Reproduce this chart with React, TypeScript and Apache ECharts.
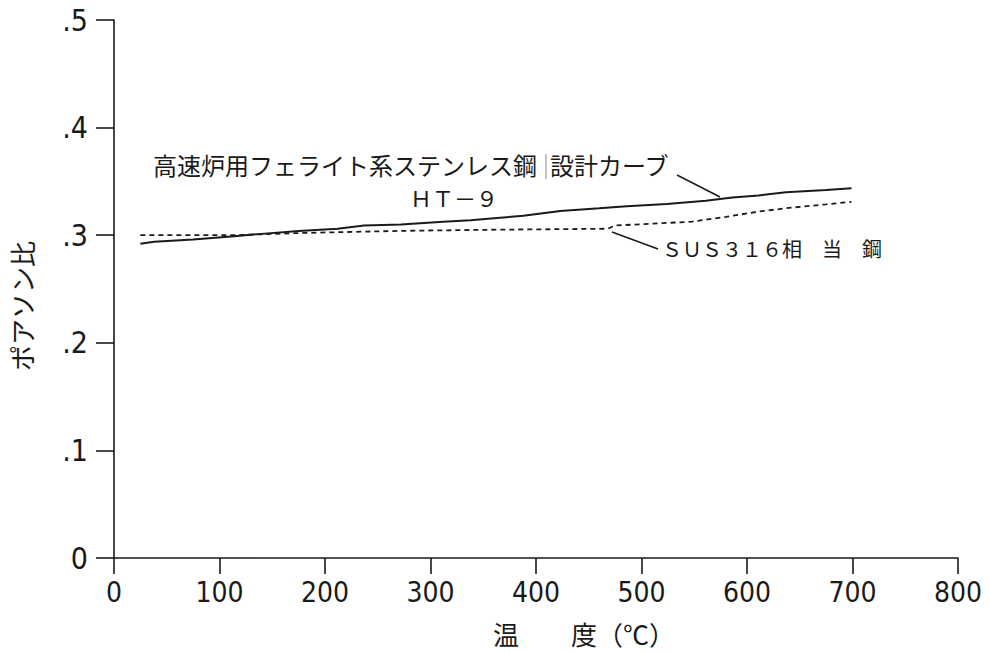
import React, { useEffect, useRef } from "react";
import * as echarts from "echarts";

// Temperature (°C) sample points
const ht9Temps = [25, 38, 75, 114, 137, 175, 212, 237, 272, 312, 338, 363, 388, 423, 460, 486, 524, 561, 586, 611, 637, 675, 699];
const ht9Values = [0.292, 0.294, 0.296, 0.299, 0.301, 0.304, 0.306, 0.309, 0.310, 0.3125, 0.314, 0.316, 0.318, 0.3225, 0.325, 0.327, 0.329, 0.332, 0.335, 0.337, 0.340, 0.342, 0.3436];

// Temperature (°C) sample points
const susTemps = [25, 114, 175, 270, 350, 468, 475, 548, 580, 611, 642, 675, 699];
const susValues = [0.300, 0.300, 0.302, 0.304, 0.305, 0.306, 0.309, 0.3126, 0.317, 0.322, 0.3256, 0.3287, 0.331];

const xTickValues = [0, 100, 200, 300, 400, 500, 600, 700, 800];
const yTickLabels = ["0", ".1", ".2", ".3", ".4", ".5"];

const curveLabel1 = "高速炉用フェライト系ステンレス鋼";
const curveLabel2 = "設計カーブ";
const ht9Label = "ＨＴ－９";
const susLabel = "ＳＵＳ３１６相　当　鋼";
const xName = "温　　度（℃）";
const yName = "ポアソン比";

const CJK = "'Noto Sans CJK JP', 'Noto Sans', sans-serif";
const NUM = "'Liberation Sans Narrow', 'DejaVu Sans Condensed', 'DejaVu Sans', sans-serif";
const INK = "#1a1a1a";

export default function App() {
  const ref = useRef<HTMLDivElement>(null);

  useEffect(() => {
    if (!ref.current) return;
    const chart = echarts.init(ref.current, undefined, { renderer: "svg" });
    const option: any = {
      animation: false,
      backgroundColor: "#ffffff",
      grid: { left: 112, right: 32, top: 20, bottom: 95, containLabel: false },
      xAxis: {
        type: "value",
        min: 0,
        max: 800,
        interval: 100,
        name: xName,
        nameLocation: "middle",
        nameGap: 62,
        nameTextStyle: { fontFamily: CJK, fontSize: 26, color: INK, padding: [0, 0, 0, 96] },
        axisLine: { show: true, lineStyle: { color: INK, width: 1.6 } },
        axisTick: { show: true, length: 16, lineStyle: { color: INK, width: 1.6 } },
        axisLabel: {
          margin: 20,
          fontFamily: NUM,
          fontSize: 28,
          color: INK,
          formatter: (v: number) => (xTickValues.indexOf(v) >= 0 ? String(v) : ""),
        },
        splitLine: { show: false },
      },
      yAxis: {
        type: "value",
        min: 0,
        max: 0.5,
        interval: 0.1,
        name: yName,
        nameLocation: "middle",
        nameRotate: 90,
        nameGap: 80,
        nameTextStyle: { fontFamily: CJK, fontSize: 26, color: INK, padding: [0, 34, 0, 0] },
        axisLine: { show: true, lineStyle: { color: INK, width: 1.6 } },
        axisTick: { show: true, length: 18, lineStyle: { color: INK, width: 1.6 } },
        axisLabel: {
          margin: 26,
          fontFamily: NUM,
          fontSize: 30,
          color: INK,
          formatter: (v: number) => yTickLabels[Math.round(v * 10)] ?? "",
        },
        splitLine: { show: false },
      },
      series: [
        {
          name: "HT-9",
          type: "line",
          data: ht9Temps.map((t, i) => [t, ht9Values[i]]),
          showSymbol: false,
          smooth: false,
          lineStyle: { color: INK, width: 2 },
        },
        {
          name: "SUS316相当鋼",
          type: "line",
          data: susTemps.map((t, i) => [t, susValues[i]]),
          showSymbol: false,
          smooth: false,
          lineStyle: { color: INK, width: 1.8, type: [5, 4] },
        },
      ],
      graphic: [
        {
          type: "text",
          left: 153,
          top: 152,
          style: { text: curveLabel1, fontFamily: CJK, fontSize: 24, fill: INK },
        },
        {
          type: "line",
          shape: { x1: 546, y1: 154, x2: 546, y2: 179 },
          style: { stroke: "#8a8a8a", lineWidth: 1 },
        },
        {
          type: "text",
          left: 550,
          top: 152,
          style: { text: curveLabel2, fontFamily: CJK, fontSize: 24, fill: INK },
        },
        {
          type: "line",
          shape: { x1: 677, y1: 175, x2: 720, y2: 197 },
          style: { stroke: INK, lineWidth: 1.5 },
        },
        {
          type: "text",
          left: 410,
          top: 186,
          style: { text: ht9Label, fontFamily: CJK, fontSize: 22, fill: INK },
        },
        {
          type: "line",
          shape: { x1: 612, y1: 232, x2: 658, y2: 249 },
          style: { stroke: INK, lineWidth: 1.5 },
        },
        {
          type: "text",
          left: 662,
          top: 238,
          style: { text: susLabel, fontFamily: CJK, fontSize: 20, fill: INK },
        },
      ],
    };
    chart.setOption(option);
    return () => chart.dispose();
  }, []);

  return (
    <div
      ref={ref}
      style={{ position: "absolute", left: 0, top: 0, width: 990, height: 653, background: "#fff" }}
    />
  );
}
